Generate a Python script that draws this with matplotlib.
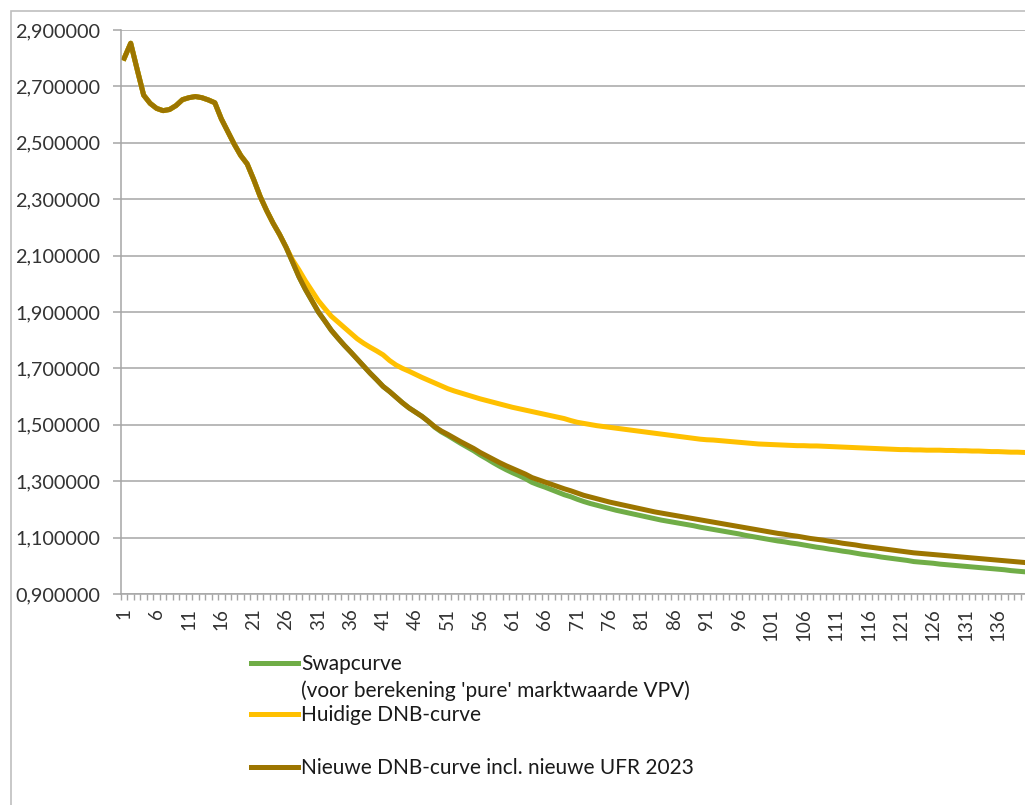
import numpy as np
import matplotlib
matplotlib.use("Agg")
import matplotlib.pyplot as plt
from matplotlib.lines import Line2D
from matplotlib.patches import Rectangle
from matplotlib.ticker import FuncFormatter

plt.rcParams['font.family'] = ['Lato', 'DejaVu Sans']

# looptijd in jaren (categorie-as)
jaren = list(range(1, 141))

# Nieuwe DNB-curve incl. nieuwe UFR 2023
nieuwe_dnb = [
    2.800, 2.853, 2.760, 2.669, 2.640, 2.622, 2.614, 2.618, 2.632, 2.653,
    2.660, 2.664, 2.660, 2.652, 2.642, 2.585, 2.540, 2.495, 2.455, 2.425,
    2.370, 2.310, 2.260, 2.215, 2.175, 2.130, 2.078, 2.025, 1.980, 1.940,
    1.900, 1.868, 1.835, 1.808, 1.782, 1.758, 1.733, 1.708, 1.683, 1.660,
    1.636, 1.618, 1.598, 1.578, 1.560, 1.545, 1.530, 1.512, 1.493, 1.478,
    1.466, 1.453, 1.440, 1.428, 1.416, 1.402, 1.390, 1.378, 1.366, 1.355,
    1.345, 1.335, 1.325, 1.313, 1.305, 1.297, 1.289, 1.281, 1.273, 1.266,
    1.258, 1.250, 1.244, 1.238, 1.232, 1.226, 1.221, 1.216, 1.211, 1.206,
    1.201, 1.196, 1.191, 1.187, 1.183, 1.179, 1.175, 1.171, 1.167, 1.163,
    1.159, 1.155, 1.151, 1.147, 1.143, 1.139, 1.135, 1.131, 1.127, 1.123,
    1.119, 1.115, 1.112, 1.108, 1.105, 1.101, 1.097, 1.094, 1.091, 1.087,
    1.084, 1.080, 1.077, 1.074, 1.070, 1.067, 1.064, 1.061, 1.058, 1.055,
    1.052, 1.049, 1.046, 1.044, 1.042, 1.040, 1.038, 1.036, 1.034, 1.032,
    1.030, 1.028, 1.026, 1.024, 1.022, 1.020, 1.018, 1.016, 1.014, 1.012,
]

# Swapcurve (voor berekening 'pure' marktwaarde VPV)
swapcurve = [
    2.800, 2.853, 2.760, 2.669, 2.640, 2.622, 2.614, 2.618, 2.632, 2.653,
    2.660, 2.664, 2.660, 2.652, 2.642, 2.585, 2.540, 2.495, 2.455, 2.425,
    2.370, 2.310, 2.260, 2.215, 2.175, 2.130, 2.078, 2.025, 1.980, 1.940,
    1.900, 1.868, 1.835, 1.808, 1.782, 1.758, 1.733, 1.708, 1.683, 1.660,
    1.636, 1.618, 1.598, 1.578, 1.560, 1.545, 1.530, 1.512, 1.491, 1.475,
    1.462, 1.448, 1.434, 1.421, 1.408, 1.393, 1.380, 1.366, 1.353, 1.341,
    1.330, 1.320, 1.309, 1.296, 1.287, 1.279, 1.270, 1.261, 1.252, 1.245,
    1.236, 1.228, 1.221, 1.215, 1.209, 1.203, 1.197, 1.192, 1.187, 1.182,
    1.177, 1.172, 1.167, 1.162, 1.158, 1.154, 1.150, 1.146, 1.142, 1.137,
    1.133, 1.129, 1.125, 1.121, 1.117, 1.113, 1.108, 1.104, 1.100, 1.096,
    1.092, 1.088, 1.085, 1.081, 1.078, 1.074, 1.070, 1.066, 1.063, 1.059,
    1.056, 1.052, 1.049, 1.045, 1.041, 1.038, 1.035, 1.031, 1.028, 1.025,
    1.022, 1.019, 1.015, 1.013, 1.011, 1.009, 1.006, 1.004, 1.002, 1.000,
    0.998, 0.996, 0.994, 0.992, 0.990, 0.988, 0.986, 0.983, 0.981, 0.979,
]

# Huidige DNB-curve
huidige_dnb = [
    2.800, 2.853, 2.760, 2.669, 2.640, 2.622, 2.614, 2.618, 2.632, 2.653,
    2.660, 2.664, 2.660, 2.652, 2.642, 2.585, 2.540, 2.495, 2.455, 2.425,
    2.370, 2.310, 2.260, 2.215, 2.175, 2.130, 2.085, 2.049, 2.010, 1.975,
    1.940, 1.912, 1.885, 1.865, 1.845, 1.825, 1.805, 1.789, 1.775, 1.762,
    1.748, 1.728, 1.712, 1.700, 1.690, 1.679, 1.668, 1.658, 1.648, 1.638,
    1.628, 1.620, 1.613, 1.606, 1.599, 1.592, 1.586, 1.580, 1.574, 1.568,
    1.562, 1.557, 1.552, 1.547, 1.542, 1.537, 1.532, 1.527, 1.522, 1.515,
    1.509, 1.505, 1.501, 1.497, 1.494, 1.491, 1.488, 1.485, 1.482, 1.479,
    1.476, 1.473, 1.470, 1.467, 1.464, 1.461, 1.458, 1.455, 1.452, 1.449,
    1.447, 1.446, 1.444, 1.442, 1.440, 1.438, 1.436, 1.434, 1.432, 1.431,
    1.430, 1.429, 1.428, 1.427, 1.426, 1.426, 1.425, 1.425, 1.424, 1.423,
    1.422, 1.421, 1.420, 1.419, 1.418, 1.417, 1.416, 1.415, 1.414, 1.413,
    1.412, 1.412, 1.411, 1.411, 1.410, 1.410, 1.410, 1.409, 1.409, 1.408,
    1.408, 1.407, 1.407, 1.406, 1.405, 1.405, 1.404, 1.403, 1.403, 1.402,
]

namen = ["Swapcurve\n(voor berekening 'pure' marktwaarde VPV)",
         "Huidige DNB-curve",
         "Nieuwe DNB-curve incl. nieuwe UFR 2023"]
kleuren = ["#70AD47", "#FFC000", "#9C7500"]
y_ticks = [0.9, 1.1, 1.3, 1.5, 1.7, 1.9, 2.1, 2.3, 2.5, 2.7, 2.9]

W, H = 1025, 805
fig = plt.figure(figsize=(W / 100, H / 100), dpi=100)
grijs = "#A6A6A6"

# kader om de grafiek
fig.add_artist(Rectangle((11 / W, -0.1), 1.2, 1 - 11 / H + 0.1, transform=fig.transFigure,
                         fill=False, edgecolor="#BFBFBF", lw=1.2))

ax = fig.add_axes([121 / W, 1 - 594 / H, 906 / W, 564 / H])

ax.plot(jaren, swapcurve, color=kleuren[0], lw=3.6, solid_joinstyle="round")
ax.plot(jaren, huidige_dnb, color=kleuren[1], lw=3.6, solid_joinstyle="round")
ax.plot(jaren, nieuwe_dnb, color=kleuren[2], lw=3.6, solid_joinstyle="round")

ax.set_xlim(0.5, 140.5)
ax.set_ylim(0.9, 2.9)
ax.set_yticks(y_ticks)
ax.yaxis.set_major_formatter(FuncFormatter(lambda v, p: f"{v:.6f}".replace(".", ",")))
ax.grid(axis="y", color=grijs, lw=1.1)
ax.set_axisbelow(True)

ax.set_xticks(jaren[::5])
ax.set_xticklabels([str(j) for j in jaren[::5]], rotation=90)
ax.set_xticks(np.arange(0.5, 141, 1), minor=True)
ax.tick_params(axis="x", which="major", length=0, pad=10, labelsize=13.5, labelcolor="#333333")
ax.tick_params(axis="x", which="minor", length=4.5, width=1, color=grijs)
ax.tick_params(axis="y", length=6, width=1.1, color=grijs, pad=9, labelsize=14.3,
               labelcolor="#333333")

for s in ["top", "right"]:
    ax.spines[s].set_visible(False)
for s in ["left", "bottom"]:
    ax.spines[s].set_color(grijs)
    ax.spines[s].set_linewidth(1.1)

# legenda onder de grafiek
legenda_y = [663, 714, 767]
for naam, kleur, yl in zip(namen, kleuren, legenda_y):
    fig.add_artist(Line2D([251 / W, 298 / W], [1 - yl / H, 1 - yl / H], color=kleur, lw=3.6,
                          transform=fig.transFigure))
    for k, regel in enumerate(naam.split("\n")):
        fig.text(301 / W, 1 - (yl + 7 + 27 * k) / H, regel, fontsize=15, color="#1a1a1a",
                 va="baseline", ha="left")

fig.savefig("out.png", dpi=100, facecolor="white")
